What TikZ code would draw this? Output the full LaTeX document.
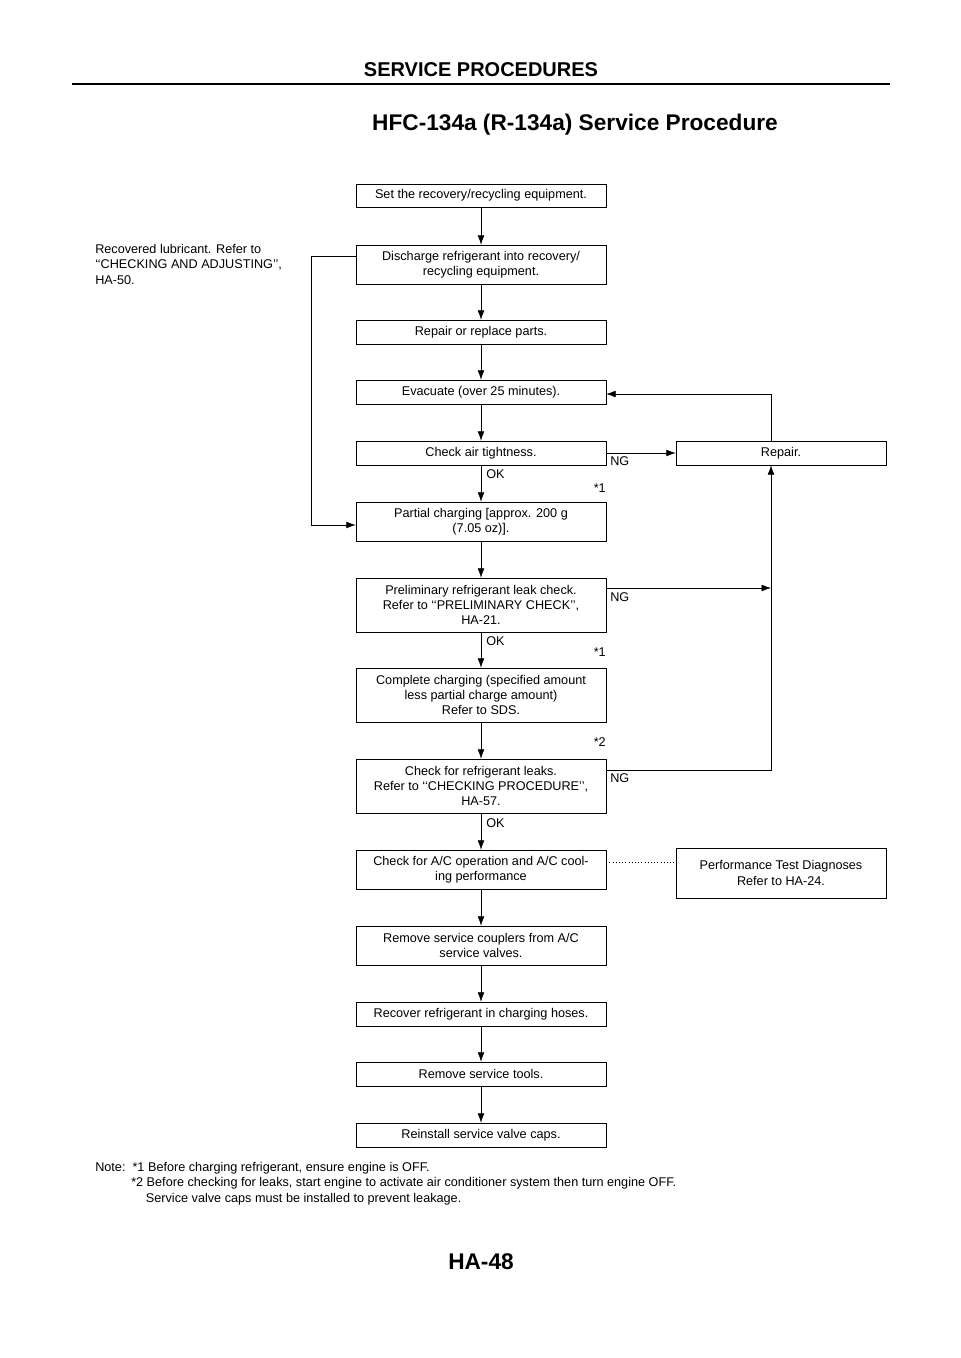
\documentclass[tikz,border=0pt]{standalone}
\usepackage{fontspec}
\setmainfont{Liberation Sans}
\usetikzlibrary{arrows.meta}
\begin{document}
\begin{tikzpicture}[
    x=0.75pt, y=-0.75pt,
    stepbox/.style={rectangle, draw=black, inner sep=1pt, minimum width=250*0.75pt, align=center, font=\fontsize{9.5}{11.5}\selectfont},
    sidebox/.style={rectangle, draw=black, inner sep=1pt, minimum width=210*0.75pt, align=center, font=\fontsize{9.5}{11.5}\selectfont},
    lab/.style={font=\fontsize{9.5}{11.5}\selectfont, inner sep=0pt},
    flow/.style={-{Latex[length=7pt,width=5pt]}, thin},
]
\useasboundingbox (0,0) rectangle (960,1358);

% header and title
\node[font=\bfseries\fontsize{15}{18}\selectfont] (head) at (481,70) {SERVICE PROCEDURES};
\draw[line width=1.5pt] (72,84) -- (890,84);
\node[font=\bfseries\fontsize{17}{20}\selectfont] (title) at (575,125) {HFC-134a (R-134a) Service Procedure};

% main column
\node[stepbox, minimum height=23*0.75pt] (s1) at (481,195.5) {Set the recovery/recycling equipment.};
\node[stepbox, minimum height=39*0.75pt] (s2) at (481,264.5) {Discharge refrigerant into recovery/\\recycling equipment.};
\node[stepbox, minimum height=24*0.75pt] (s3) at (481,332) {Repair or replace parts.};
\node[stepbox, minimum height=24*0.75pt] (s4) at (481,392) {Evacuate (over 25 minutes).};
\node[stepbox, minimum height=24*0.75pt] (s5) at (481,453) {Check air tightness.};
\node[stepbox, minimum height=39*0.75pt] (s6) at (481,521.5) {Partial charging [approx. 200 g\\(7.05 oz)].};
\node[stepbox, minimum height=54*0.75pt] (s7) at (481,605) {Preliminary refrigerant leak check.\\Refer to ‘‘PRELIMINARY CHECK’’,\\HA-21.};
\node[stepbox, minimum height=54*0.75pt] (s8) at (481,695) {Complete charging (specified amount\\less partial charge amount)\\Refer to SDS.};
\node[stepbox, minimum height=54*0.75pt] (s9) at (481,786) {Check for refrigerant leaks.\\Refer to ‘‘CHECKING PROCEDURE’’,\\HA-57.};
\node[stepbox, minimum height=39*0.75pt] (s10) at (481,869.5) {Check for A/C operation and A/C cool-\\ing performance};
\node[stepbox, minimum height=39*0.75pt] (s11) at (481,945.5) {Remove service couplers from A/C\\service valves.};
\node[stepbox, minimum height=24*0.75pt] (s12) at (481,1014) {Recover refrigerant in charging hoses.};
\node[stepbox, minimum height=24*0.75pt] (s13) at (481,1074) {Remove service tools.};
\node[stepbox, minimum height=24*0.75pt] (s14) at (481,1135) {Reinstall service valve caps.};

% side boxes
\node[sidebox, minimum height=24*0.75pt] (rep) at (781,453) {Repair.};
\node[sidebox, minimum height=50*0.75pt] (perf) at (781,873) {Performance Test Diagnoses\\Refer to HA-24.};

% straight arrows
\foreach \a/\b in {s1/s2,s2/s3,s3/s4,s4/s5,s5/s6,s6/s7,s7/s8,s8/s9,s9/s10,s10/s11,s11/s12,s12/s13,s13/s14}
  \draw[flow] (\a) -- (\b);

% lubricant branch
\coordinate (l1) at (311,256);
\coordinate (l2) at (311,525);
\draw[flow] (s2.west |- l1) -- (l1) -- (l2) -- (s6.west |- l2);
\node[lab, anchor=north west, align=left] (lub) at (95,244) {Recovered lubricant. Refer to\\‘‘CHECKING AND ADJUSTING’’,\\HA-50.};

% NG loops
\coordinate (r4) at (771,394);
\draw[flow] (rep.north -| r4) -- (r4) -- (s4.east |- r4);
\draw[flow] (s5.east) -- (rep.west);
\coordinate (r7) at (771,588);
\coordinate (r9) at (771,770);
\draw[flow] (s7.east |- r7) -- (r7);
\draw[flow] (s9.east |- r9) -- (r9) -- (rep.south -| r9);
\draw[dotted] (s10.east |- 0,862) -- (perf.west |- 0,862);

% labels
\node[lab, anchor=north west] (ng1) at (610,456) {NG};
\node[lab, anchor=north west] (ng2) at (610,592) {NG};
\node[lab, anchor=north west] (ng3) at (610,773) {NG};
\node[lab, anchor=west] (ok1) at (486,474) {OK};
\node[lab, anchor=west] (ok2) at (486,641) {OK};
\node[lab, anchor=west] (ok3) at (486,823) {OK};
\node[lab, anchor=east] (n1a) at (606,488) {*1};
\node[lab, anchor=east] (n1b) at (606,652) {*1};
\node[lab, anchor=east] (n2) at (606,742) {*2};

% note
\node[lab, anchor=north west, align=left] (note) at (95,1162) {Note:\ \ *1 Before charging refrigerant, ensure engine is OFF.\\
\hspace*{27pt}*2 Before checking for leaks, start engine to activate air conditioner system then turn engine OFF.\\
\hspace*{38pt}Service valve caps must be installed to prevent leakage.};

% footer
\node[font=\bfseries\fontsize{17}{20}\selectfont] (foot) at (481,1262) {HA-48};
\end{tikzpicture}
\end{document}
